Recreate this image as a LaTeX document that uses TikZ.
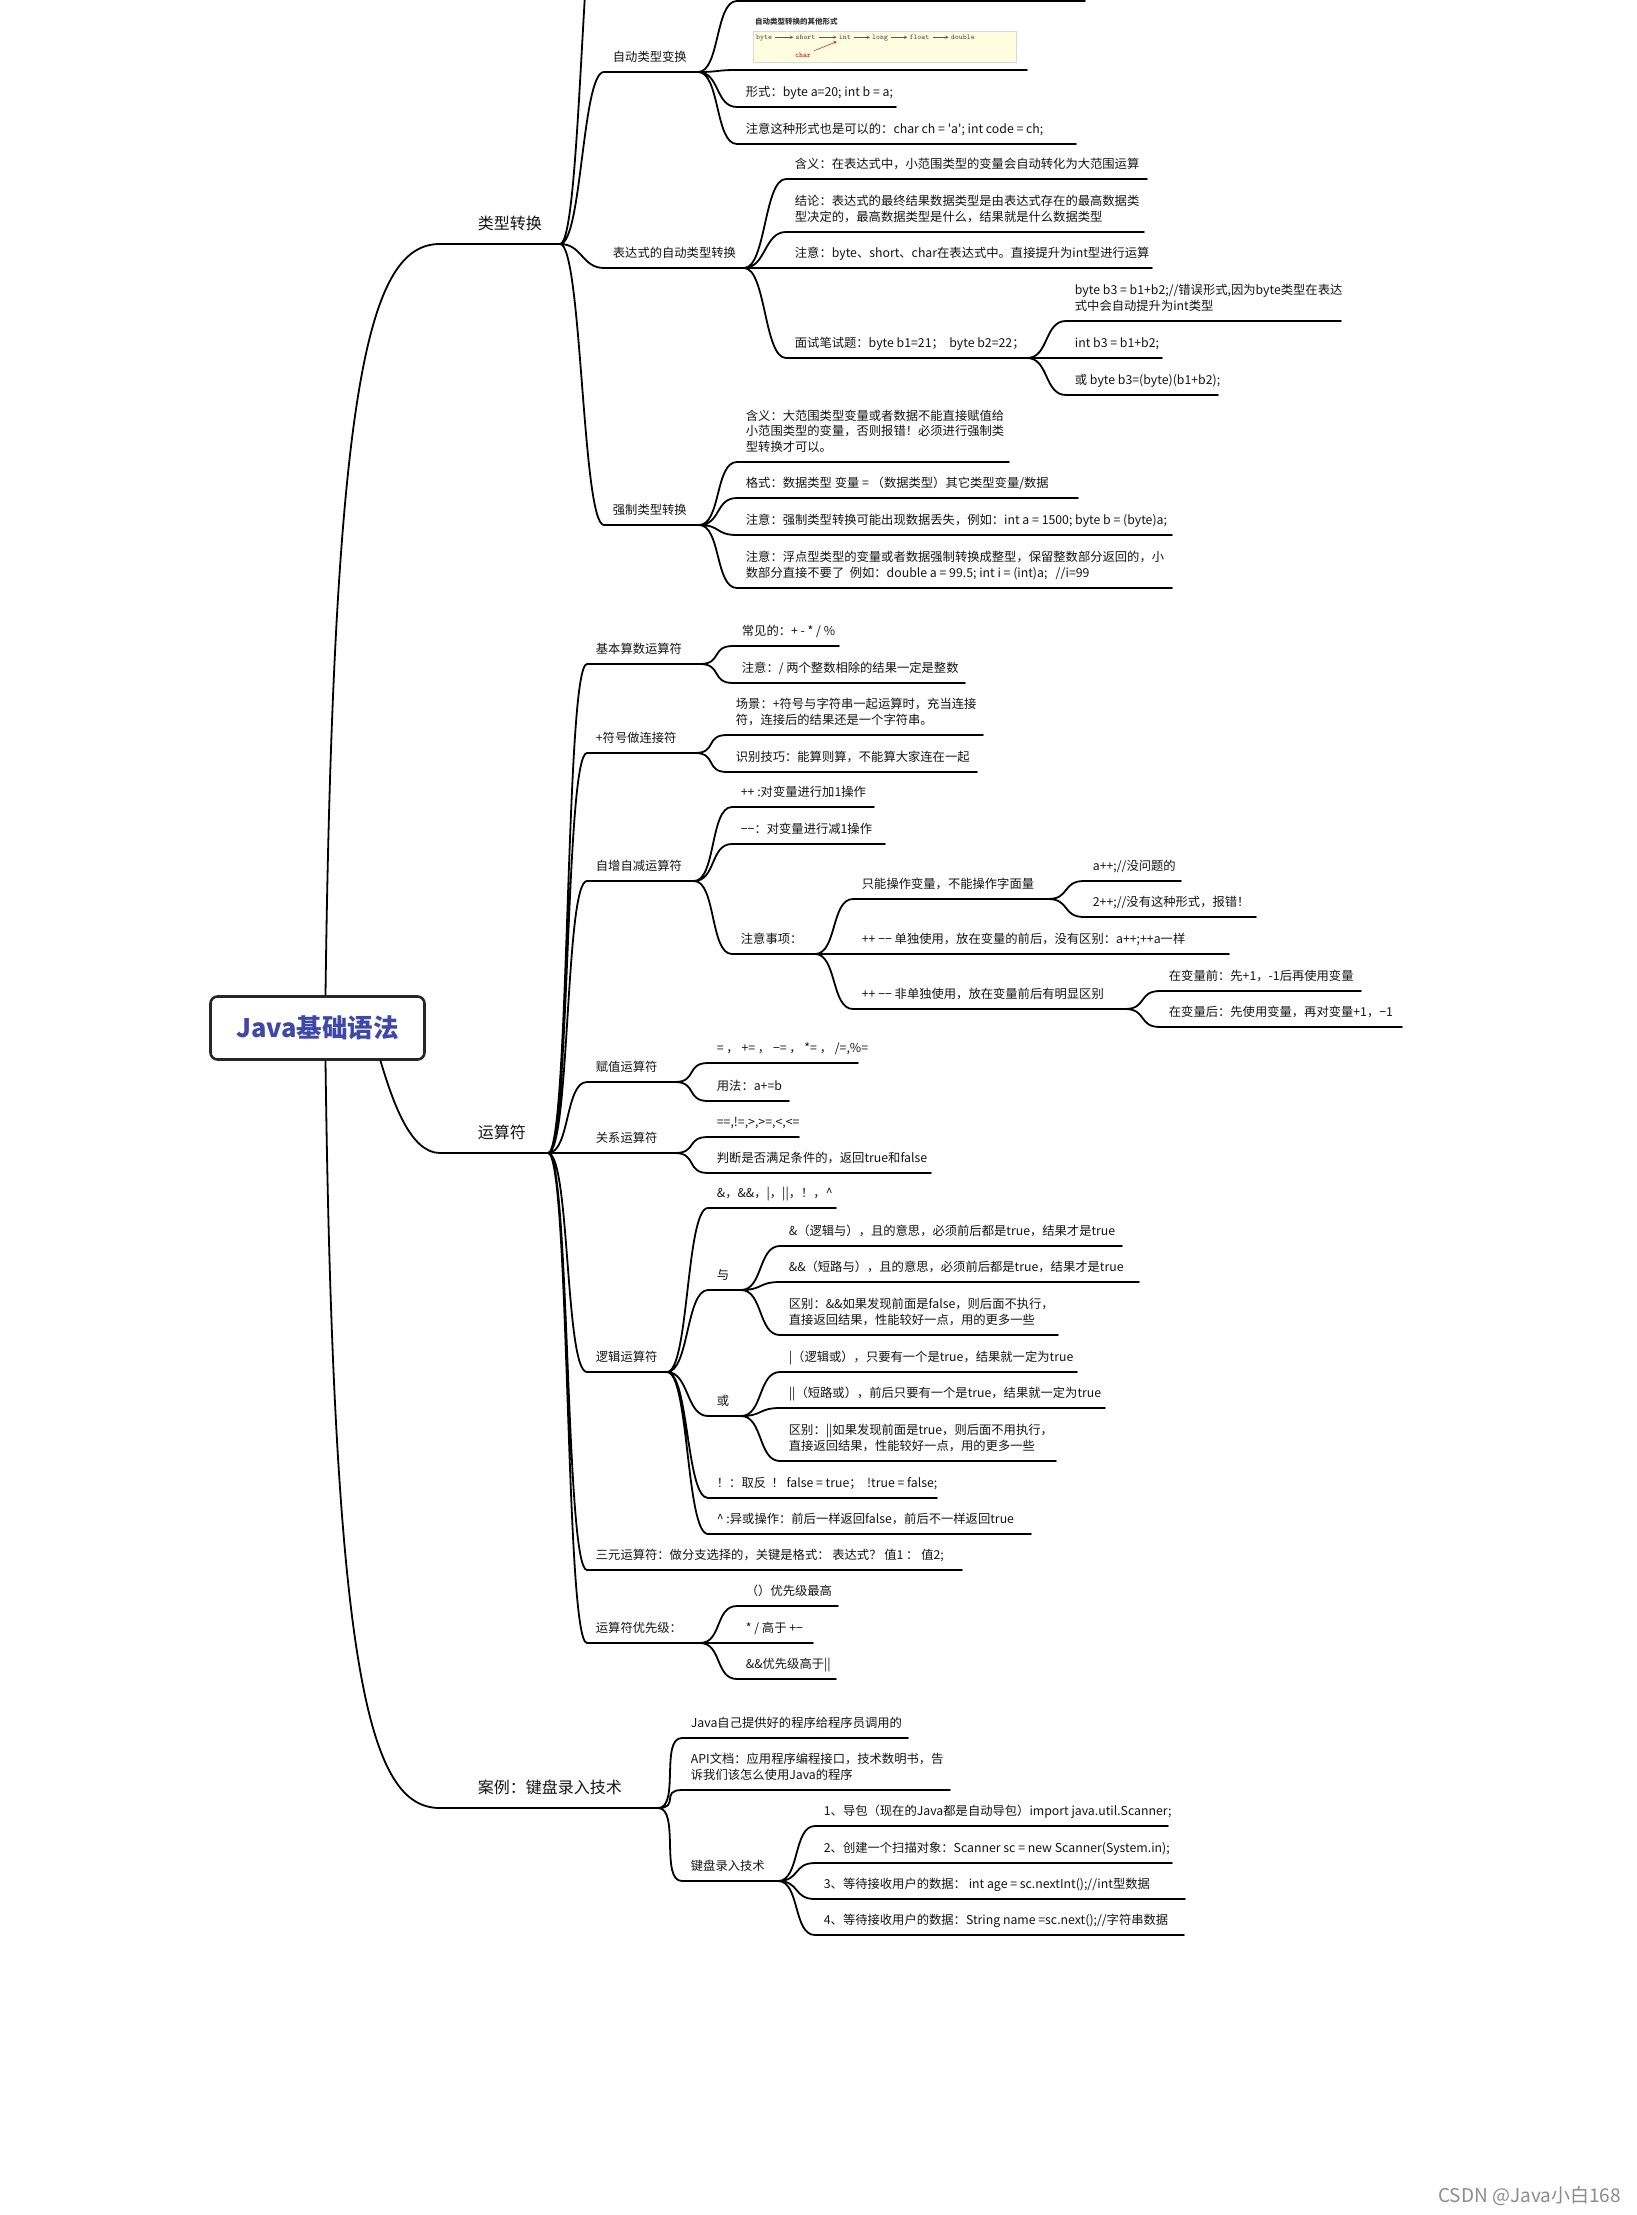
\documentclass[tikz,border=0pt]{standalone}
\usepackage{fontspec}
\setmainfont{Noto Sans CJK SC}[Ligatures=TeXOff]
\usetikzlibrary{positioning}
\newcommand\leaffont{\fontsize{12.3}{15.5}\selectfont}
\newcommand\topicfont{\fontsize{16}{20}\selectfont}
\definecolor{rootblue}{RGB}{62,72,168}

\begin{document}
\begin{tikzpicture}[x=1pt, y=-1pt,
    ul/.style={line width=1.8pt, line cap=round},
    link/.style={to path={.. controls +(22,0) and +(-22,0) .. (\tikztotarget)}},
    leaf/.style={anchor=south west, inner sep=0pt, xshift=8pt, yshift=5pt,
      align=left, font=\leaffont, text=black!92, execute at end node=\strut},
    topic/.style={anchor=south west, inner sep=0pt, xshift=37pt, yshift=8pt,
      font=\topicfont, text=black!92, execute at end node=\strut},
    rootbox/.style={draw=black!85, line width=2.6pt, rounded corners=7pt, fill=white,
      minimum width=214pt, minimum height=63pt,
      font=\fontsize{25.5}{30}\selectfont\bfseries, text=rootblue},
    mono/.style={font=\ttfamily\fontsize{7.5}{9}\selectfont, inner sep=1pt, text=black!70},
    arr/.style={-stealth, line width=0.45pt, black!65, shorten <=2pt, shorten >=1pt}
  ]
  \useasboundingbox (0,0) rectangle (1637,2215);
  \fill[white] (0,0) rectangle (1637,2215);
  \clip (0,0) rectangle (1637,2215);

  \node[rootbox] (root) at (317.5,1028) {Java基础语法};

  % main branches
  \draw[ul] (440,244) coordinate (lx) -- node[topic, pos=0] (lx-t) {类型转换} (560,244) coordinate (lx-e);
  \draw[ul] (440,1153) coordinate (ys) -- node[topic, pos=0] (ys-t) {运算符} (548,1153) coordinate (ys-e);
  \draw[ul] (440,1808) coordinate (al) -- node[topic, pos=0] (al-t) {案例：键盘录入技术} (658,1808) coordinate (al-e);
  \draw[ul] ([xshift=8pt]root.north) .. controls +(8,-620) and +(-70,0) .. (lx);
  \draw[ul] ([xshift=63pt]root.south) .. controls +(12,40) and +(-30,0) .. (ys);
  \draw[ul] ([xshift=8pt]root.south) .. controls +(8,620) and +(-70,0) .. (al);

  % 类型转换
  \coordinate (lx0) at (604,-150);
  \draw[ul] (604,72) coordinate (zd) -- node[leaf, pos=0] (zd-t) {自动类型变换} (698,72) coordinate (zd-e);
  \draw[ul] (604,268) coordinate (bd) -- node[leaf, pos=0] (bd-t) {表达式的自动类型转换} (744,268) coordinate (bd-e);
  \draw[ul] (604,525) coordinate (qz) -- node[leaf, pos=0] (qz-t) {强制类型转换} (699,525) coordinate (qz-e);
  \draw[ul] (lx-e) to[link] (lx0) (lx-e) to[link] (zd) (lx-e) to[link] (bd) (lx-e) to[link] (qz);

  \draw[ul] (737,1) coordinate (zd0) -- (1085,1) coordinate (zd0-e);
  \draw[ul] (737,70) coordinate (zdi) -- (1027,70) coordinate (zdi-e);
  \draw[ul] (737,107) coordinate (zd1) -- node[leaf, pos=0] (zd1-t) {形式：byte a=20; int b = a;} (896,107) coordinate (zd1-e);
  \draw[ul] (737,144) coordinate (zd2) -- node[leaf, pos=0] (zd2-t) {注意这种形式也是可以的：char ch = 'a'; int code = ch;} (1076,144) coordinate (zd2-e);
  \draw[ul] (zd-e) to[link] (zd0) (zd-e) to[link] (zdi) (zd-e) to[link] (zd1) (zd-e) to[link] (zd2);

  % picture in the branch
  \node[font=\fontsize{7.5}{9}\selectfont\bfseries, text=black!80, anchor=west, inner sep=0pt] (zdi-h) at (755,22) {自动类型转换的其他形式};
  \draw[black!15, fill=yellow!12] (753,31) rectangle (1016,62);
  \node[mono, anchor=base west] (tbyte) at (755,40) {byte};
  \node[mono, base right=21pt of tbyte] (tshort) {short};
  \node[mono, base right=21pt of tshort] (tint) {int};
  \node[mono, base right=19pt of tint] (tlong) {long};
  \node[mono, base right=19pt of tlong] (tfloat) {float};
  \node[mono, base right=19pt of tfloat] (tdouble) {double};
  \node[mono, text=red!85!black] (tchar) at (803,55) {char};
  \draw[arr] (tbyte.mid east) -- (tshort.mid west);
  \draw[arr] (tshort.mid east) -- (tint.mid west);
  \draw[arr] (tint.mid east) -- (tlong.mid west);
  \draw[arr] (tlong.mid east) -- (tfloat.mid west);
  \draw[arr] (tfloat.mid east) -- (tdouble.mid west);
  \draw[arr, red!85!black] (tchar.north east) -- (tint.south west);

  \draw[ul] (786,179) coordinate (bd1) -- node[leaf, pos=0] (bd1-t) {含义：在表达式中，小范围类型的变量会自动转化为大范围运算} (1147,179) coordinate (bd1-e);
  \draw[ul] (786,232) coordinate (bd2) -- node[leaf, pos=0] (bd2-t) {结论：表达式的最终结果数据类型是由表达式存在的最高数据类\\型决定的，最高数据类型是什么，结果就是什么数据类型} (1144,232) coordinate (bd2-e);
  \draw[ul] (786,268) coordinate (bd3) -- node[leaf, pos=0] (bd3-t) {注意：byte、short、char在表达式中。直接提升为int型进行运算} (1152,268) coordinate (bd3-e);
  \draw[ul] (786,358) coordinate (bd4) -- node[leaf, pos=0] (bd4-t) {面试笔试题：byte b1=21；\ \ byte b2=22；} (1027,358) coordinate (bd4-e);
  \draw[ul] (bd-e) to[link] (bd1) (bd-e) to[link] (bd2) (bd-e) to[link] (bd3) (bd-e) to[link] (bd4);

  \draw[ul] (1066,321) coordinate (ms1) -- node[leaf, pos=0] (ms1-t) {byte b3 = b1+b2;//错误形式,因为byte类型在表达\\式中会自动提升为int类型} (1341,321) coordinate (ms1-e);
  \draw[ul] (1066,358) coordinate (ms2) -- node[leaf, pos=0] (ms2-t) {int b3 = b1+b2;} (1162,358) coordinate (ms2-e);
  \draw[ul] (1066,395) coordinate (ms3) -- node[leaf, pos=0] (ms3-t) {或 byte b3=(byte)(b1+b2);} (1218,395) coordinate (ms3-e);
  \draw[ul] (bd4-e) to[link] (ms1) (bd4-e) to[link] (ms2) (bd4-e) to[link] (ms3);

  \draw[ul] (737,462) coordinate (qz1) -- node[leaf, pos=0] (qz1-t) {含义：大范围类型变量或者数据不能直接赋值给\\小范围类型的变量，否则报错！必须进行强制类\\型转换才可以。} (1009,462) coordinate (qz1-e);
  \draw[ul] (737,498) coordinate (qz2) -- node[leaf, pos=0] (qz2-t) {格式：数据类型 变量 = （数据类型）其它类型变量/数据} (1078,498) coordinate (qz2-e);
  \draw[ul] (737,535) coordinate (qz3) -- node[leaf, pos=0] (qz3-t) {注意：强制类型转换可能出现数据丢失，例如：int a = 1500; byte b = (byte)a;} (1172,535) coordinate (qz3-e);
  \draw[ul] (737,588) coordinate (qz4) -- node[leaf, pos=0] (qz4-t) {注意：浮点型类型的变量或者数据强制转换成整型，保留整数部分返回的，小\\数部分直接不要了\ \ 例如：double a = 99.5; int i = (int)a;\ \ \ //i=99} (1172,588) coordinate (qz4-e);
  \draw[ul] (qz-e) to[link] (qz1) (qz-e) to[link] (qz2) (qz-e) to[link] (qz3) (qz-e) to[link] (qz4);

  % 运算符
  \draw[ul] (587,664) coordinate (jb) -- node[leaf, pos=0] (jb-t) {基本算数运算符} (700,664) coordinate (jb-e);
  \draw[ul] (587,753) coordinate (lj) -- node[leaf, pos=0] (lj-t) {+符号做连接符} (695,753) coordinate (lj-e);
  \draw[ul] (587,881) coordinate (zz) -- node[leaf, pos=0] (zz-t) {自增自减运算符} (694,881) coordinate (zz-e);
  \draw[ul] (587,1082) coordinate (fz) -- node[leaf, pos=0] (fz-t) {赋值运算符} (675,1082) coordinate (fz-e);
  \draw[ul] (587,1153) coordinate (gx) -- node[leaf, pos=0] (gx-t) {关系运算符} (675,1153) coordinate (gx-e);
  \draw[ul] (587,1372) coordinate (lg) -- node[leaf, pos=0] (lg-t) {逻辑运算符} (667,1372) coordinate (lg-e);
  \draw[ul] (587,1570) coordinate (sy) -- node[leaf, pos=0] (sy-t) {三元运算符：做分支选择的，关键是格式：\ 表达式？ 值1 ： 值2;} (962,1570) coordinate (sy-e);
  \draw[ul] (587,1643) coordinate (yx) -- node[leaf, pos=0] (yx-t) {运算符优先级：} (700,1643) coordinate (yx-e);
  \draw[ul] (ys-e) to[link] (jb) (ys-e) to[link] (lj) (ys-e) to[link] (zz) (ys-e) to[link] (fz)
    (ys-e) to[link] (gx) (ys-e) to[link] (lg) (ys-e) to[link] (sy) (ys-e) to[link] (yx);

  \draw[ul] (733,646) coordinate (jb1) -- node[leaf, pos=0] (jb1-t) {常见的：+ - * / \%} (839,646) coordinate (jb1-e);
  \draw[ul] (733,683) coordinate (jb2) -- node[leaf, pos=0] (jb2-t) {注意：/ 两个整数相除的结果一定是整数} (965,683) coordinate (jb2-e);
  \draw[ul] (jb-e) to[link] (jb1) (jb-e) to[link] (jb2);

  \draw[ul] (727,735) coordinate (lj1) -- node[leaf, pos=0] (lj1-t) {场景：+符号与字符串一起运算时，充当连接\\符，连接后的结果还是一个字符串。} (983,735) coordinate (lj1-e);
  \draw[ul] (727,772) coordinate (lj2) -- node[leaf, pos=0] (lj2-t) {识别技巧：能算则算，不能算大家连在一起} (977,772) coordinate (lj2-e);
  \draw[ul] (lj-e) to[link] (lj1) (lj-e) to[link] (lj2);

  \draw[ul] (732,807) coordinate (zz1) -- node[leaf, pos=0] (zz1-t) {++ :对变量进行加1操作} (874,807) coordinate (zz1-e);
  \draw[ul] (732,844) coordinate (zz2) -- node[leaf, pos=0] (zz2-t) {−−：对变量进行减1操作} (885,844) coordinate (zz2-e);
  \draw[ul] (732,954) coordinate (zz3) -- node[leaf, pos=0] (zz3-t) {注意事项：} (815,954) coordinate (zz3-e);
  \draw[ul] (zz-e) to[link] (zz1) (zz-e) to[link] (zz2) (zz-e) to[link] (zz3);

  \draw[ul] (853,899) coordinate (zx1) -- node[leaf, pos=0] (zx1-t) {只能操作变量，不能操作字面量} (1048,899) coordinate (zx1-e);
  \draw[ul] (853,954) coordinate (zx2) -- node[leaf, pos=0] (zx2-t) {++ −− 单独使用，放在变量的前后，没有区别：a++;++a一样} (1229,954) coordinate (zx2-e);
  \draw[ul] (853,1009) coordinate (zx3) -- node[leaf, pos=0] (zx3-t) {++ −− 非单独使用，放在变量前后有明显区别} (1125,1009) coordinate (zx3-e);
  \draw[ul] (zz3-e) to[link] (zx1) (zz3-e) to[link] (zx2) (zz3-e) to[link] (zx3);

  \draw[ul] (1084,881) coordinate (zc1) -- node[leaf, pos=0] (zc1-t) {a++;//没问题的} (1181,881) coordinate (zc1-e);
  \draw[ul] (1084,917) coordinate (zc2) -- node[leaf, pos=0] (zc2-t) {2++;//没有这种形式，报错！} (1256,917) coordinate (zc2-e);
  \draw[ul] (zx1-e) to[link] (zc1) (zx1-e) to[link] (zc2);

  \draw[ul] (1160,991) coordinate (zf1) -- node[leaf, pos=0] (zf1-t) {在变量前：先+1，-1后再使用变量} (1361,991) coordinate (zf1-e);
  \draw[ul] (1160,1027) coordinate (zf2) -- node[leaf, pos=0] (zf2-t) {在变量后：先使用变量，再对变量+1，−1} (1402,1027) coordinate (zf2-e);
  \draw[ul] (zx3-e) to[link] (zf1) (zx3-e) to[link] (zf2);

  \draw[ul] (708,1063) coordinate (fz1) -- node[leaf, pos=0] (fz1-t) {= ， += ， −= ， *= ， /=,\%=} (858,1063) coordinate (fz1-e);
  \draw[ul] (708,1101) coordinate (fz2) -- node[leaf, pos=0] (fz2-t) {用法：a+=b} (789,1101) coordinate (fz2-e);
  \draw[ul] (fz-e) to[link] (fz1) (fz-e) to[link] (fz2);

  \draw[ul] (708,1137) coordinate (gx1) -- node[leaf, pos=0] (gx1-t) {==,!=,>,>=,<,<=} (799,1137) coordinate (gx1-e);
  \draw[ul] (708,1173) coordinate (gx2) -- node[leaf, pos=0] (gx2-t) {判断是否满足条件的，返回true和false} (931,1173) coordinate (gx2-e);
  \draw[ul] (gx-e) to[link] (gx1) (gx-e) to[link] (gx2);

  \draw[ul] (708,1208) coordinate (lg1) -- node[leaf, pos=0] (lg1-t) {\&，\&\&，|，||，！，\textasciicircum} (836,1208) coordinate (lg1-e);
  \draw[ul] (708,1290) coordinate (lg2) -- node[leaf, pos=0] (lg2-t) {与} (741,1290) coordinate (lg2-e);
  \draw[ul] (708,1416) coordinate (lg3) -- node[leaf, pos=0] (lg3-t) {或} (741,1416) coordinate (lg3-e);
  \draw[ul] (708,1498) coordinate (lg4) -- node[leaf, pos=0] (lg4-t) {！：取反\ \ ！ false = true；\ \ !true = false;} (937,1498) coordinate (lg4-e);
  \draw[ul] (708,1534) coordinate (lg5) -- node[leaf, pos=0] (lg5-t) {\textasciicircum\ :异或操作：前后一样返回false，前后不一样返回true} (1031,1534) coordinate (lg5-e);
  \draw[ul] (lg-e) to[link] (lg1) (lg-e) to[link] (lg2) (lg-e) to[link] (lg3) (lg-e) to[link] (lg4) (lg-e) to[link] (lg5);

  \draw[ul] (780,1246) coordinate (yu1) -- node[leaf, pos=0] (yu1-t) {\&（逻辑与），且的意思，必须前后都是true，结果才是true} (1122,1246) coordinate (yu1-e);
  \draw[ul] (780,1282) coordinate (yu2) -- node[leaf, pos=0] (yu2-t) {\&\&（短路与），且的意思，必须前后都是true，结果才是true} (1139,1282) coordinate (yu2-e);
  \draw[ul] (780,1335) coordinate (yu3) -- node[leaf, pos=0] (yu3-t) {区别：\&\&如果发现前面是false，则后面不执行，\\直接返回结果，性能较好一点，用的更多一些} (1058,1335) coordinate (yu3-e);
  \draw[ul] (lg2-e) to[link] (yu1) (lg2-e) to[link] (yu2) (lg2-e) to[link] (yu3);

  \draw[ul] (780,1372) coordinate (hu1) -- node[leaf, pos=0] (hu1-t) {|（逻辑或），只要有一个是true，结果就一定为true} (1077,1372) coordinate (hu1-e);
  \draw[ul] (780,1408) coordinate (hu2) -- node[leaf, pos=0] (hu2-t) {||（短路或），前后只要有一个是true，结果就一定为true} (1105,1408) coordinate (hu2-e);
  \draw[ul] (780,1461) coordinate (hu3) -- node[leaf, pos=0] (hu3-t) {区别：||如果发现前面是true，则后面不用执行，\\直接返回结果，性能较好一点，用的更多一些} (1056,1461) coordinate (hu3-e);
  \draw[ul] (lg3-e) to[link] (hu1) (lg3-e) to[link] (hu2) (lg3-e) to[link] (hu3);

  \draw[ul] (737,1606) coordinate (yx1) -- node[leaf, pos=0] (yx1-t) {（）优先级最高} (838,1606) coordinate (yx1-e);
  \draw[ul] (737,1643) coordinate (yx2) -- node[leaf, pos=0] (yx2-t) {* / 高于 +−} (813,1643) coordinate (yx2-e);
  \draw[ul] (737,1679) coordinate (yx3) -- node[leaf, pos=0] (yx3-t) {\&\&优先级高于||} (836,1679) coordinate (yx3-e);
  \draw[ul] (yx-e) to[link] (yx1) (yx-e) to[link] (yx2) (yx-e) to[link] (yx3);

  % 案例
  \draw[ul] (682,1738) coordinate (al1) -- node[leaf, pos=0] (al1-t) {Java自己提供好的程序给程序员调用的} (908,1738) coordinate (al1-e);
  \draw[ul] (682,1790) coordinate (al2) -- node[leaf, pos=0] (al2-t) {API文档：应用程序编程接口，技术数明书，告\\诉我们该怎么使用Java的程序} (950,1790) coordinate (al2-e);
  \draw[ul] (682,1881) coordinate (al3) -- node[leaf, pos=0] (al3-t) {键盘录入技术} (778,1881) coordinate (al3-e);
  \draw[ul] (al-e) to[link] (al1) (al-e) to[link] (al2) (al-e) to[link] (al3);

  \draw[ul] (815,1826) coordinate (jp1) -- node[leaf, pos=0] (jp1-t) {1、导包（现在的Java都是自动导包）import java.util.Scanner;} (1168,1826) coordinate (jp1-e);
  \draw[ul] (815,1863) coordinate (jp2) -- node[leaf, pos=0] (jp2-t) {2、创建一个扫描对象：Scanner sc = new Scanner(System.in);} (1172,1863) coordinate (jp2-e);
  \draw[ul] (815,1899) coordinate (jp3) -- node[leaf, pos=0] (jp3-t) {3、等待接收用户的数据：\ int age = sc.nextInt();//int型数据} (1185,1899) coordinate (jp3-e);
  \draw[ul] (815,1935) coordinate (jp4) -- node[leaf, pos=0] (jp4-t) {4、等待接收用户的数据：String name =sc.next();//字符串数据} (1184,1935) coordinate (jp4-e);
  \draw[ul] (al3-e) to[link] (jp1) (al3-e) to[link] (jp2) (al3-e) to[link] (jp3) (al3-e) to[link] (jp4);

  \node[font=\fontsize{19}{22}\selectfont, text=black!45, anchor=east, inner sep=0pt] (wm) at (1621,2196) {CSDN @Java小白168};
\end{tikzpicture}
\end{document}
